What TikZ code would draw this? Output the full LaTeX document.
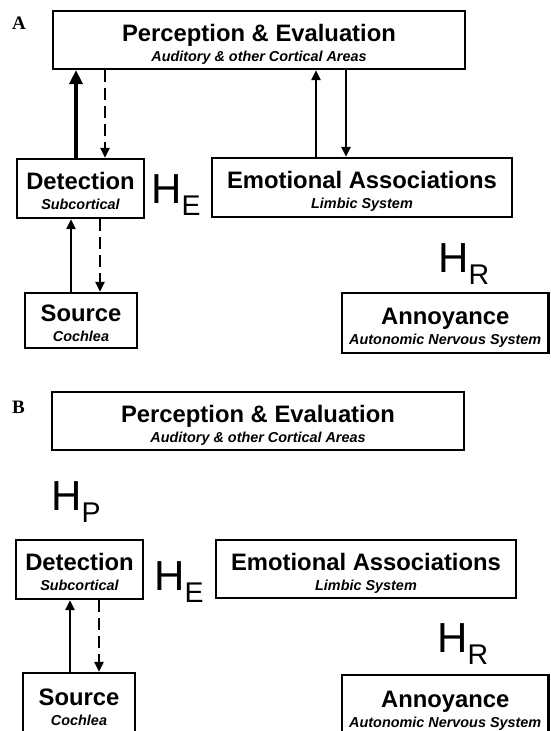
\documentclass[tikz,border=0pt]{standalone}
\usepackage{fontspec}
\setmainfont{Liberation Serif}
\setsansfont{Liberation Sans}
\usetikzlibrary{arrows.meta}

% box text: big title over small italic subtitle
\newcommand{\duo}[2]{\rule{0pt}{25.5pt}{\fontsize{23.8}{20}\selectfont #1}\\{\itshape #2}\rule[-3.5pt]{0pt}{3.5pt}}
% H with a lowered index
\newcommand{\hsub}[2]{{\fontsize{42}{42}\selectfont #1}\raisebox{-12pt}{\fontsize{28.5}{28}\selectfont #2}}

\tikzset{
  blk/.style={draw, line width=2.2pt, inner sep=0pt, align=center,
    font=\sffamily\bfseries\fontsize{14.4}{20}\selectfont},
  hlab/.style={anchor=base west, inner sep=0pt, font=\sffamily},
  tag/.style={anchor=base west, inner sep=0pt, font=\bfseries\fontsize{19}{19}\selectfont},
  up/.style={line width=2.4pt, -{Triangle[width=9pt,length=10pt]}},
  upthick/.style={line width=3.5pt, -{Triangle[width=13pt,length=14pt]}},
  dn/.style={line width=2.2pt, dash pattern=on 12pt off 6pt, -{Triangle[width=9pt,length=10pt]}}
}

\begin{document}
\begin{tikzpicture}[x=1pt,y=-1pt]
		\useasboundingbox (0,0) rectangle (550,731);
		% panel A
		\node[tag] (labA) at (12,29) {A};
		\node[blk, minimum width=412pt, minimum height=58pt] (percA) at (259,40) {\duo{Perception \& Evaluation}{Auditory \& other Cortical Areas}};
		\node[blk, minimum width=127pt, minimum height=59pt] (detA) at (80.5,188.5) {\duo{Detection}{Subcortical}};
		\node[blk, minimum width=300pt, minimum height=59pt] (emoA) at (362,187.5) {\duo{Emotional Associations}{Limbic System}};
		\node[blk, minimum width=112pt, minimum height=55pt] (srcA) at (81,320.5) {\duo{Source}{Cochlea}};
		\node[blk, minimum width=206.5pt, minimum height=60pt] (annA) at (445.25,323) {\duo{Annoyance}{Autonomic Nervous System}};
		\node[hlab] (heA) at (151,203) {\hsub{H}{E}};
		\node[hlab] (hrA) at (438,272) {\hsub{H}{R}};
		\draw[upthick] ([xshift=-4.5pt]detA.north) -- ([xshift=-4.5pt]detA.north |- percA.south);
		\draw[dn] ([xshift=24.5pt]detA.north |- percA.south) -- ([xshift=24.5pt]detA.north);
		\draw[up] ([xshift=-46pt]emoA.north) -- ([xshift=-46pt]emoA.north |- percA.south);
		\draw[up] ([xshift=-16pt]emoA.north |- percA.south) -- ([xshift=-16pt]emoA.north);
		\draw[up] ([xshift=-10pt]srcA.north) -- ([xshift=-10pt]srcA.north |- detA.south);
		\draw[dn] ([xshift=19pt]srcA.north |- detA.south) -- ([xshift=19pt]srcA.north);
		% panel B
		\node[tag] (labB) at (12,413) {B};
		\node[blk, minimum width=412pt, minimum height=58pt] (percB) at (258,421) {\duo{Perception \& Evaluation}{Auditory \& other Cortical Areas}};
		\node[hlab] (hpB) at (51,510) {\hsub{H}{P}};
		\node[blk, minimum width=127pt, minimum height=59pt] (detB) at (79.5,569.5) {\duo{Detection}{Subcortical}};
		\node[hlab] (heB) at (154,590) {\hsub{H}{E}};
		\node[blk, minimum width=300pt, minimum height=58pt] (emoB) at (366,569) {\duo{Emotional Associations}{Limbic System}};
		\node[hlab] (hrB) at (437,652) {\hsub{H}{R}};
		\node[blk, minimum width=112pt, minimum height=62pt] (srcB) at (79,704) {\duo{Source}{Cochlea}};
		\node[blk, minimum width=206.5pt, minimum height=62pt] (annB) at (445.25,706) {\duo{Annoyance}{Autonomic Nervous System}};
		\draw[up] ([xshift=-9pt]srcB.north) -- ([xshift=-9pt]srcB.north |- detB.south);
		\draw[dn] ([xshift=20pt]srcB.north |- detB.south) -- ([xshift=20pt]srcB.north);
\end{tikzpicture}
\end{document}
